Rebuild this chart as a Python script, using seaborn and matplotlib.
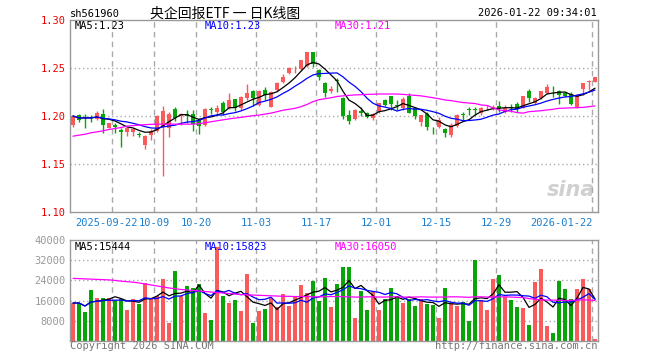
import numpy as np
import pandas as pd
import matplotlib
matplotlib.use("Agg")
import matplotlib.pyplot as plt
import matplotlib.transforms as mtransforms
import seaborn as sns

# trading days 2025-09-11 .. 2026-01-22 (holidays removed)
holidays = ['2025-10-01', '2025-10-02', '2025-10-03', '2025-10-06', '2025-10-07',
            '2025-10-08', '2026-01-01', '2026-01-02']
dates = pd.bdate_range('2025-09-11', '2026-01-22')
dates = dates[~dates.isin(pd.to_datetime(holidays))]

tick_dates = ['2025-09-22', '2025-10-09', '2025-10-20', '2025-11-03', '2025-11-17',
              '2025-12-01', '2025-12-15', '2025-12-29', '2026-01-22']
tick_labels = ['2025-09-22', '10-09', '10-20', '11-03', '11-17',
               '12-01', '12-15', '12-29', '2026-01-22']

opens = [1.191, 1.201, 1.199, 1.199, 1.197, 1.202, 1.188, 1.191, 1.185, 1.183,
         1.183, 1.181, 1.170, 1.180, 1.184, 1.189, 1.188, 1.207, 1.200, 1.202,
         1.202, 1.196, 1.191, 1.207, 1.2045, 1.214, 1.208, 1.2177, 1.208, 1.2184,
         1.226, 1.2115, 1.227, 1.2097, 1.227, 1.235, 1.2445, 1.2497, 1.249, 1.252,
         1.267, 1.248, 1.2347, 1.226, 1.237, 1.219, 1.201, 1.1965, 1.205, 1.2028,
         1.1975, 1.2045, 1.2167, 1.2208, 1.2115, 1.208, 1.2208, 1.208, 1.1941, 1.202,
         1.188, 1.189, 1.186, 1.1802, 1.1896, 1.2015, 1.2065, 1.2065, 1.2035, 1.208,
         1.208, 1.210, 1.2045, 1.2097, 1.213, 1.2087, 1.226, 1.2139, 1.219, 1.2236,
         1.2264, 1.226, 1.2243, 1.2226, 1.2097, 1.2281, 1.2358, 1.2351]
highs = [1.201, 1.202, 1.202, 1.201, 1.205, 1.207, 1.193, 1.193, 1.188, 1.187,
         1.188, 1.183, 1.180, 1.186, 1.201, 1.210, 1.204, 1.209, 1.203, 1.206,
         1.206, 1.198, 1.208, 1.209, 1.2115, 1.2155, 1.2236, 1.218, 1.221, 1.233,
         1.227, 1.227, 1.230, 1.226, 1.235, 1.2434, 1.251, 1.252, 1.2583, 1.267,
         1.267, 1.249, 1.2358, 1.231, 1.240, 1.220, 1.206, 1.207, 1.2097, 1.2045,
         1.203, 1.2135, 1.218, 1.221, 1.217, 1.2198, 1.2236, 1.209, 1.2015, 1.204,
         1.1885, 1.1993, 1.187, 1.1925, 1.2025, 1.2045, 1.2097, 1.2097, 1.2097, 1.2115,
         1.2115, 1.2156, 1.2115, 1.213, 1.2142, 1.2208, 1.2278, 1.220, 1.226, 1.233,
         1.2313, 1.227, 1.2253, 1.2253, 1.2225, 1.234, 1.2375, 1.2409]
lows = [1.189, 1.194, 1.187, 1.194, 1.196, 1.182, 1.187, 1.182, 1.168, 1.179,
        1.179, 1.178, 1.166, 1.175, 1.183, 1.137, 1.178, 1.195, 1.191, 1.193,
        1.184, 1.181, 1.190, 1.202, 1.2015, 1.201, 1.207, 1.2056, 1.206, 1.217,
        1.210, 1.210, 1.2167, 1.209, 1.226, 1.234, 1.244, 1.2445, 1.248, 1.251,
        1.2514, 1.2375, 1.220, 1.224, 1.225, 1.197, 1.1917, 1.196, 1.200, 1.198,
        1.196, 1.2035, 1.210, 1.2063, 1.206, 1.206, 1.203, 1.1965, 1.190, 1.1854,
        1.1813, 1.188, 1.178, 1.1785, 1.189, 1.196, 1.201, 1.201, 1.201, 1.206,
        1.206, 1.2045, 1.203, 1.2045, 1.2045, 1.208, 1.215, 1.213, 1.218, 1.223,
        1.2201, 1.2122, 1.220, 1.2115, 1.208, 1.2219, 1.2271, 1.235]
closes = [1.200, 1.196, 1.198, 1.198, 1.203, 1.191, 1.193, 1.189, 1.183, 1.187,
          1.186, 1.180, 1.1795, 1.184, 1.200, 1.205, 1.202, 1.198, 1.202, 1.200,
          1.192, 1.190, 1.207, 1.206, 1.2087, 1.2045, 1.2167, 1.208, 1.220, 1.2236,
          1.219, 1.2264, 1.222, 1.2247, 1.234, 1.241, 1.2497, 1.250, 1.2583, 1.267,
          1.2542, 1.241, 1.2236, 1.228, 1.236, 1.200, 1.195, 1.206, 1.203, 1.1986,
          1.2017, 1.2132, 1.2115, 1.2125, 1.210, 1.2175, 1.2035, 1.2005, 1.201, 1.1882,
          1.187, 1.1958, 1.182, 1.1906, 1.201, 1.201, 1.206, 1.206, 1.2087, 1.2087,
          1.209, 1.208, 1.2087, 1.2087, 1.207, 1.2208, 1.2184, 1.219, 1.226, 1.2306,
          1.2257, 1.2219, 1.2208, 1.2122, 1.2219, 1.234, 1.2365, 1.2403]
ma30_price = [1.179, 1.180, 1.181, 1.1825, 1.1835, 1.1845, 1.186, 1.187, 1.188, 1.1895,
              1.190, 1.1905, 1.191, 1.1913, 1.1915, 1.1915, 1.1915, 1.1915, 1.1915, 1.1915,
              1.1915, 1.192, 1.193, 1.194, 1.195, 1.196, 1.197, 1.1978, 1.1986, 1.1995,
              1.2003, 1.201, 1.202, 1.203, 1.2045, 1.206, 1.207, 1.208, 1.2097, 1.212,
              1.215, 1.217, 1.218, 1.219, 1.2203, 1.221, 1.2215, 1.222, 1.2222, 1.2225,
              1.2227, 1.2229, 1.2229, 1.2229, 1.2229, 1.2225, 1.222, 1.2215, 1.221, 1.220,
              1.219, 1.218, 1.2167, 1.216, 1.215, 1.214, 1.2135, 1.213, 1.2115, 1.211,
              1.2085, 1.2063, 1.2055, 1.205, 1.2035, 1.203, 1.2045, 1.205, 1.2055, 1.2063,
              1.207, 1.208, 1.2082, 1.2085, 1.2087, 1.209, 1.2097, 1.2105]

volumes = [15050, 15050, 11480, 20200, 17030, 17030, 17030, 16370, 16630, 12400,
           16630, 14650, 23000, 17030, 17690, 24550, 7130, 27720, 17690, 21780,
           20990, 22570, 11090, 8450, 37100, 17950, 15050, 16240, 12010, 26530,
           7130, 12000, 12700, 17000, 13500, 18600, 13900, 17800, 22200, 19000,
           23800, 15900, 24950, 13500, 22570, 29300, 29300, 9100, 19800, 12280,
           19670, 12280, 16500, 20990, 17690, 15050, 16630, 13860, 16630, 14650,
           14390, 9110, 20990, 14650, 13860, 15440, 7920, 32080, 16240, 12280,
           24550, 26140, 17420, 16240, 13460, 13070, 6340, 23360, 28510, 5940,
           3170, 23760, 20590, 16630, 20590, 24550, 20590, 790]
ma30_vol = [24800, 24700, 24600, 24500, 24400, 24300, 24200, 24000, 23700, 23500,
            23300, 23000, 22600, 22200, 21800, 21400, 21000, 20700, 20400, 20200,
            20000, 19800, 19600, 19400, 19200, 19000, 18800, 18600, 18400, 18300,
            18200, 18100, 18000, 17900, 17800, 17700, 17700, 17600, 17600, 17600,
            17500, 17500, 17500, 17600, 17600, 17500, 17500, 17400, 17400, 17500,
            17500, 17400, 17400, 17500, 17500, 17400, 17400, 17400, 17500, 17400,
            17400, 17400, 17400, 17500, 17500, 17400, 17300, 17500, 17500, 17400,
            17400, 17500, 17500, 17400, 17300, 17200, 16800, 16500, 16300, 16200,
            16200, 16100, 16000, 16100, 16200, 16300, 16200, 16050]

RED = '#fa5a5a'
GREEN = '#08a408'
GRID = '#aaaaaa'
MONO = 'DejaVu Sans Mono'

sns.set_style('white')
plt.rcParams['font.family'] = [MONO, 'Noto Sans CJK SC']

df = pd.DataFrame({'date': dates, 'open': opens, 'high': highs, 'low': lows,
                   'close': closes, 'volume': volumes,
                   'ma30': ma30_price, 'vma30': ma30_vol})
df['idx'] = np.arange(len(df))
df['dir'] = np.where(df['close'] >= df['open'], 'up', 'down')
df['ma5'] = df['close'].rolling(5, min_periods=1).mean()
df['ma10'] = df['close'].rolling(10, min_periods=1).mean()
df['vma5'] = df['volume'].rolling(5, min_periods=1).mean()
df['vma10'] = df['volume'].rolling(10, min_periods=1).mean()
colors = df['dir'].map({'up': RED, 'down': GREEN})

fig = plt.figure(figsize=(6.6, 3.6), dpi=100)
ax = fig.add_axes([70 / 660, 1 - 212 / 360, 528 / 660, 192 / 360])
ax2 = fig.add_axes([70 / 660, 1 - 341 / 360, 528 / 660, 101 / 360])

# candles
body_lo = df[['open', 'close']].min(axis=1)
body_h = (df['close'] - df['open']).abs().clip(lower=0.0008)
ax.vlines(df['idx'], df['low'], df['high'], colors=colors, lw=1, zorder=2)
ax.bar(df['idx'], body_h, bottom=body_lo, width=0.82, color=colors,
       lw=0, edgecolor='none', zorder=3)
sns.lineplot(x=df['idx'], y=df['ma5'], color='black', lw=0.9, ax=ax, zorder=4)
sns.lineplot(x=df['idx'], y=df['ma10'], color='#0000ff', lw=0.9, ax=ax, zorder=4)
sns.lineplot(x=df['idx'], y=df['ma30'], color='#ff00ff', lw=0.9, ax=ax, zorder=4)

# volume
sns.barplot(data=df, x='idx', y='volume', hue='idx', palette=list(colors),
            width=0.83, saturation=1, legend=False, linewidth=0,
            edgecolor='none', ax=ax2, zorder=2)
sns.lineplot(x=df['idx'], y=df['vma5'], color='black', lw=0.9, ax=ax2, zorder=4)
sns.lineplot(x=df['idx'], y=df['vma10'], color='#0000ff', lw=0.9, ax=ax2, zorder=4)
sns.lineplot(x=df['idx'], y=df['vma30'], color='#ff00ff', lw=0.9, ax=ax2, zorder=4)

tick_pos = [int(df.index[df['date'] == pd.Timestamp(d)][0]) - 0.45 for d in tick_dates]

for a in (ax, ax2):
    a.set_xlim(-0.5, len(df) - 0.5)
    a.set_xlabel('')
    a.set_ylabel('')
    for s in a.spines.values():
        s.set_color('#999999')
        s.set_linewidth(1)
    for p in tick_pos:
        a.axvline(p, color=GRID, lw=1, ls=(0, (4, 3)), zorder=1)
    a.tick_params(length=0, labelsize=7.5, pad=3)

ax.set_ylim(1.10, 1.30)
yt = [1.10, 1.15, 1.20, 1.25, 1.30]
ax.set_yticks(yt)
ax.set_yticklabels([f'{v:.2f}' for v in yt], color='#ee0000')
for v in yt[1:-1]:
    ax.axhline(v, color=GRID, lw=1, ls=(0, (1, 2)), zorder=1)
ax.set_xticks(tick_pos)
ax.set_xticklabels(tick_labels, color='#1a7fd0')
ax.tick_params(axis='x', pad=4)
labs = ax.get_xticklabels()
labs[0].set_transform(labs[0].get_transform() +
                      mtransforms.ScaledTranslation(-6 / 100, 0, fig.dpi_scale_trans))
labs[-1].set_horizontalalignment('right')

ax2.set_ylim(0, 40000)
vt = [8000, 16000, 24000, 32000, 40000]
ax2.set_yticks(vt)
ax2.set_yticklabels([str(v) for v in vt], color='#999999')
for v in vt[:-1]:
    ax2.axhline(v, color=GRID, lw=1, ls=(0, (1, 2)), zorder=1)
ax2.set_xticks([])

# texts
fig.text(70 / 660, 1 - 17 / 360, 'sh561960', fontsize=7.5, color='black', family=MONO)
fig.text(150 / 660, 1 - 18 / 360, '央企回报ETF 一 日K线图', fontsize=10, color='black',
         family=['Noto Sans CJK SC', MONO])
fig.text(597 / 660, 1 - 16 / 360, '2026-01-22 09:34:01', fontsize=7.5, ha='right',
         color='black', family=MONO)
for txt, x, c in [('MA5:1.23', 75, 'black'), ('MA10:1.23', 205, '#0000ff'),
                  ('MA30:1.21', 335, '#ff00ff')]:
    fig.text(x / 660, 1 - 29 / 360, txt, fontsize=7.5, color=c, family=MONO)
for txt, x, c in [('MA5:15444', 75, 'black'), ('MA10:15823', 205, '#0000ff'),
                  ('MA30:16050', 335, '#ff00ff')]:
    fig.text(x / 660, 1 - 250 / 360, txt, fontsize=7.5, color=c, family=MONO)
fig.text(70 / 660, 1 - 349 / 360, 'Copyright 2026 SINA.COM', fontsize=7.5,
         color='#777777', family=MONO)
fig.text(597 / 660, 1 - 349 / 360, 'http://finance.sina.com.cn', fontsize=7.5,
         ha='right', color='#777777', family=MONO)
ax.text(0.995, 0.06, 'sina', transform=ax.transAxes, ha='right', va='bottom',
        fontsize=15, fontweight='bold', fontstyle='italic', color='#d0d0d0',
        family='DejaVu Sans', zorder=0)

fig.savefig('out.png', dpi=100)
